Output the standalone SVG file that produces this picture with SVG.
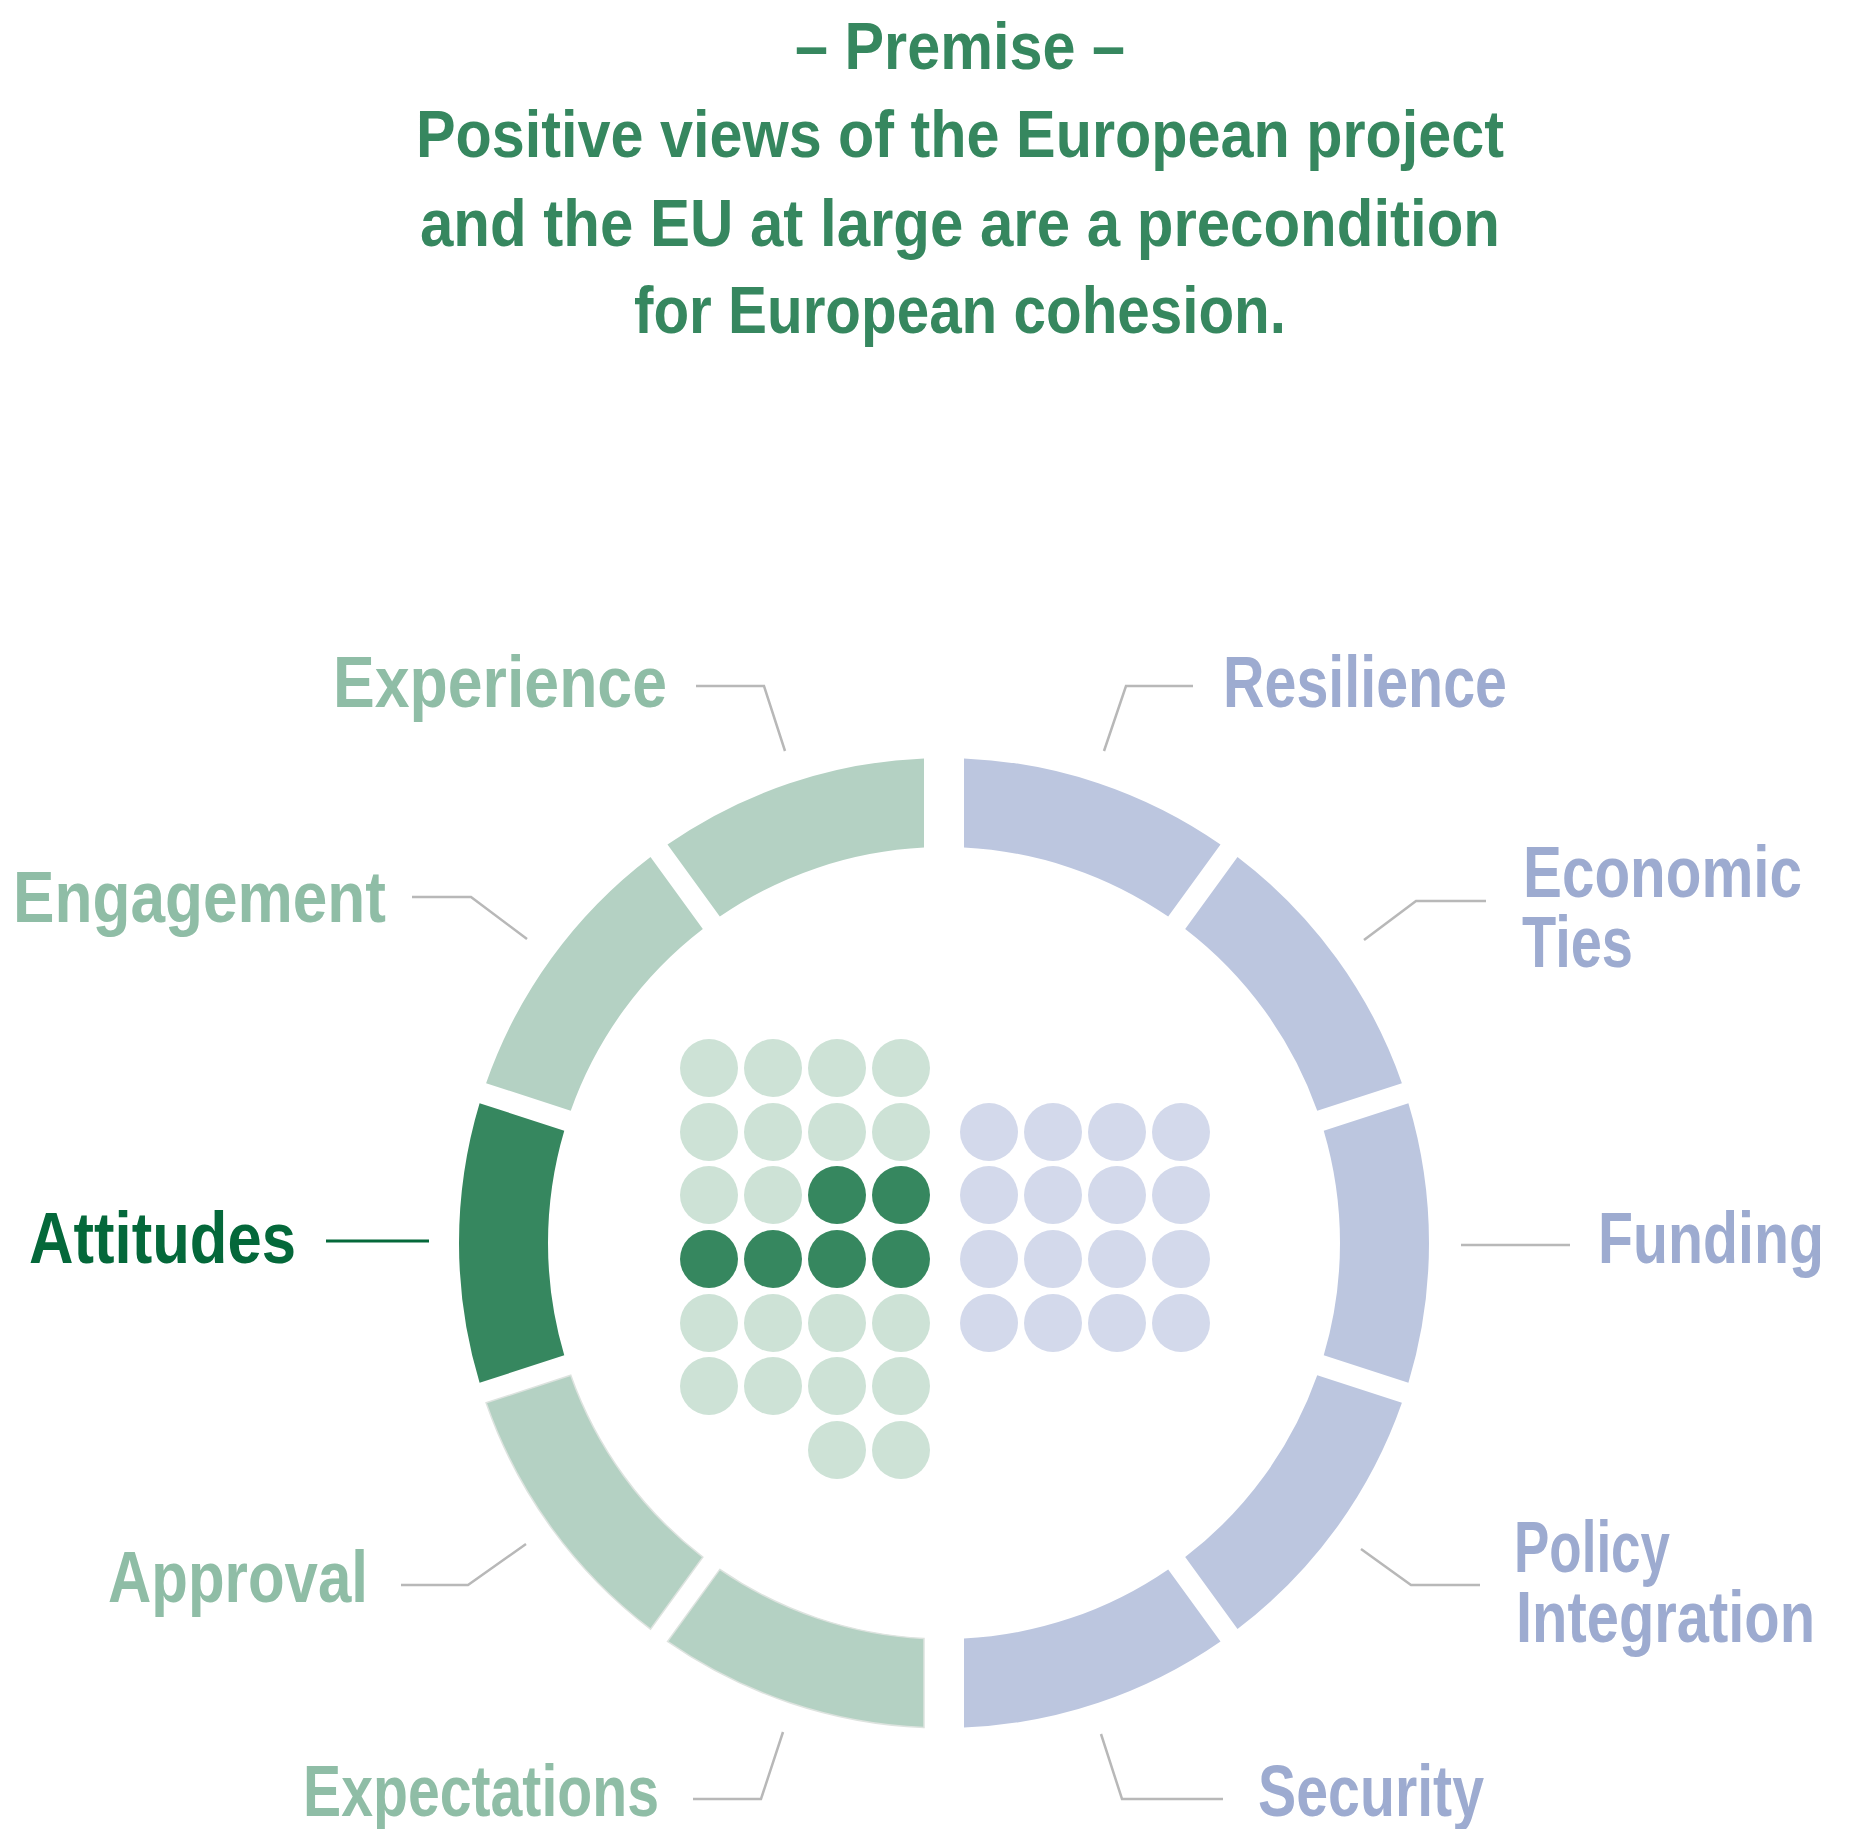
<svg xmlns="http://www.w3.org/2000/svg" width="1849" height="1829" viewBox="0 0 1849 1829">
<style>
  .lbl { font-family: "Liberation Sans Narrow", "Liberation Sans", Arial, sans-serif; font-weight: bold; font-size: 72px; }
  .title { font-family: "Liberation Sans Narrow", "Liberation Sans", Arial, sans-serif; font-weight: bold; font-size: 66px; fill: #36875f; }
  .g { fill: #8fbda6; }
  .b { fill: #9dabd0; }
  .att { fill: #04683a; }
  .segG { fill: #b4d1c3; }
  .segGo { fill: #b4d1c3; stroke: #dde3df; stroke-width: 1.5; }
  .segD { fill: #36875f; }
  .segB { fill: #bcc6df; }
  .lead { fill: none; stroke: #b8b8b8; stroke-width: 2.5; }
  .leadD { fill: none; stroke: #04683a; stroke-width: 3; }
  .dg { fill: #cde2d6; }
  .dd { fill: #36875f; }
  .db { fill: #d3d9eb; }
</style>
<rect width="1849" height="1829" fill="#ffffff"/>

<g id="title">
  <text class="title" x="960" y="69" text-anchor="middle" textLength="330" lengthAdjust="spacingAndGlyphs">– Premise –</text>
  <text class="title" x="960" y="157" text-anchor="middle" textLength="1088" lengthAdjust="spacingAndGlyphs">Positive views of the European project</text>
  <text class="title" x="960" y="246" text-anchor="middle" textLength="1080" lengthAdjust="spacingAndGlyphs">and the EU at large are a precondition</text>
  <text class="title" x="960" y="333" text-anchor="middle" textLength="652" lengthAdjust="spacingAndGlyphs">for European cohesion.</text>
</g>

<g id="connectors">
  <polyline class="lead" points="696,686 764,686 785,751"/>
  <polyline class="lead" points="412,897 471,897 527,939"/>
  <polyline class="leadD" points="326,1241 429,1241"/>
  <polyline class="lead" points="401,1585 468,1585 526,1544"/>
  <polyline class="lead" points="693,1799 761,1799 783,1732"/>
  <polyline class="lead" points="1193,686 1126,686 1104,751"/>
  <polyline class="lead" points="1486,901 1416,901 1364,940"/>
  <polyline class="lead" points="1461,1245 1570,1245"/>
  <polyline class="lead" points="1480,1585 1411,1585 1361,1549"/>
  <polyline class="lead" points="1223,1799 1122,1799 1101,1734"/>
</g>

<g id="node-resilience">
  <path class="segB" d="M964,758.41 A485,485 0 0 1 1220.51,844.55 L1168.19,916.57 A396,396 0 0 0 964,847.51 Z"/>
  <text class="lbl b" x="1223" y="707" textLength="284" lengthAdjust="spacingAndGlyphs">Resilience</text>
</g>
<g id="node-economic-ties">
  <path class="segB" d="M1237.5,856.89 A485,485 0 0 1 1401.91,1083.18 L1317.24,1110.69 A396,396 0 0 0 1185.18,928.91 Z"/>
  <text class="lbl b"><tspan x="1523" y="897" textLength="279" lengthAdjust="spacingAndGlyphs">Economic</tspan><tspan x="1522" y="967" textLength="111" lengthAdjust="spacingAndGlyphs">Ties</tspan></text>
</g>
<g id="node-funding">
  <path class="segB" d="M1408.4,1103.15 A485,485 0 0 1 1408.4,1382.85 L1323.73,1355.34 A396,396 0 0 0 1323.73,1130.66 Z"/>
  <text class="lbl b" x="1598" y="1263" textLength="226" lengthAdjust="spacingAndGlyphs">Funding</text>
</g>
<g id="node-policy-integration">
  <path class="segB" d="M1401.91,1402.82 A485,485 0 0 1 1237.5,1629.11 L1185.18,1557.09 A396,396 0 0 0 1317.24,1375.31 Z"/>
  <text class="lbl b"><tspan x="1514" y="1572" textLength="156" lengthAdjust="spacingAndGlyphs">Policy</tspan><tspan x="1516" y="1642" textLength="299" lengthAdjust="spacingAndGlyphs">Integration</tspan></text>
</g>
<g id="node-security">
  <path class="segB" d="M1220.51,1641.45 A485,485 0 0 1 964,1727.59 L964,1638.49 A396,396 0 0 0 1168.19,1569.43 Z"/>
  <text class="lbl b" x="1258" y="1816" textLength="226" lengthAdjust="spacingAndGlyphs">Security</text>
</g>
<g id="node-expectations">
  <path class="segGo" d="M924,1727.59 A485,485 0 0 1 667.49,1641.45 L719.81,1569.43 A396,396 0 0 0 924,1638.49 Z"/>
  <text class="lbl g" x="303" y="1816" textLength="356" lengthAdjust="spacingAndGlyphs">Expectations</text>
</g>
<g id="node-approval">
  <path class="segGo" d="M650.5,1629.11 A485,485 0 0 1 486.09,1402.82 L570.76,1375.31 A396,396 0 0 0 702.82,1557.09 Z"/>
  <text class="lbl g" x="108" y="1602" textLength="260" lengthAdjust="spacingAndGlyphs">Approval</text>
</g>
<g id="node-attitudes">
  <path class="segD" d="M479.6,1382.85 A485,485 0 0 1 479.6,1103.15 L564.27,1130.66 A396,396 0 0 0 564.27,1355.34 Z"/>
  <text class="lbl att" x="29" y="1263" textLength="267" lengthAdjust="spacingAndGlyphs">Attitudes</text>
</g>
<g id="node-engagement">
  <path class="segG" d="M486.09,1083.18 A485,485 0 0 1 650.5,856.89 L702.82,928.91 A396,396 0 0 0 570.76,1110.69 Z"/>
  <text class="lbl g" x="13" y="922" textLength="373" lengthAdjust="spacingAndGlyphs">Engagement</text>
</g>
<g id="node-experience">
  <path class="segG" d="M667.49,844.55 A485,485 0 0 1 924,758.41 L924,847.51 A396,396 0 0 0 719.81,916.57 Z"/>
  <text class="lbl g" x="333" y="707" textLength="334" lengthAdjust="spacingAndGlyphs">Experience</text>
</g>

<g id="dots-green">
  <circle class="dg" cx="709" cy="1068" r="29"/><circle class="dg" cx="773" cy="1068" r="29"/><circle class="dg" cx="837" cy="1068" r="29"/><circle class="dg" cx="901" cy="1068" r="29"/>
  <circle class="dg" cx="709" cy="1132" r="29"/><circle class="dg" cx="773" cy="1132" r="29"/><circle class="dg" cx="837" cy="1132" r="29"/><circle class="dg" cx="901" cy="1132" r="29"/>
  <circle class="dg" cx="709" cy="1195" r="29"/><circle class="dg" cx="773" cy="1195" r="29"/><circle class="dd" cx="837" cy="1195" r="29"/><circle class="dd" cx="901" cy="1195" r="29"/>
  <circle class="dd" cx="709" cy="1259" r="29"/><circle class="dd" cx="773" cy="1259" r="29"/><circle class="dd" cx="837" cy="1259" r="29"/><circle class="dd" cx="901" cy="1259" r="29"/>
  <circle class="dg" cx="709" cy="1323" r="29"/><circle class="dg" cx="773" cy="1323" r="29"/><circle class="dg" cx="837" cy="1323" r="29"/><circle class="dg" cx="901" cy="1323" r="29"/>
  <circle class="dg" cx="709" cy="1386" r="29"/><circle class="dg" cx="773" cy="1386" r="29"/><circle class="dg" cx="837" cy="1386" r="29"/><circle class="dg" cx="901" cy="1386" r="29"/>
  <circle class="dg" cx="837" cy="1450" r="29"/><circle class="dg" cx="901" cy="1450" r="29"/>
</g>
<g id="dots-blue">
  <circle class="db" cx="989" cy="1132" r="29"/><circle class="db" cx="1053" cy="1132" r="29"/><circle class="db" cx="1117" cy="1132" r="29"/><circle class="db" cx="1181" cy="1132" r="29"/>
  <circle class="db" cx="989" cy="1195" r="29"/><circle class="db" cx="1053" cy="1195" r="29"/><circle class="db" cx="1117" cy="1195" r="29"/><circle class="db" cx="1181" cy="1195" r="29"/>
  <circle class="db" cx="989" cy="1259" r="29"/><circle class="db" cx="1053" cy="1259" r="29"/><circle class="db" cx="1117" cy="1259" r="29"/><circle class="db" cx="1181" cy="1259" r="29"/>
  <circle class="db" cx="989" cy="1323" r="29"/><circle class="db" cx="1053" cy="1323" r="29"/><circle class="db" cx="1117" cy="1323" r="29"/><circle class="db" cx="1181" cy="1323" r="29"/>
</g>
</svg>
